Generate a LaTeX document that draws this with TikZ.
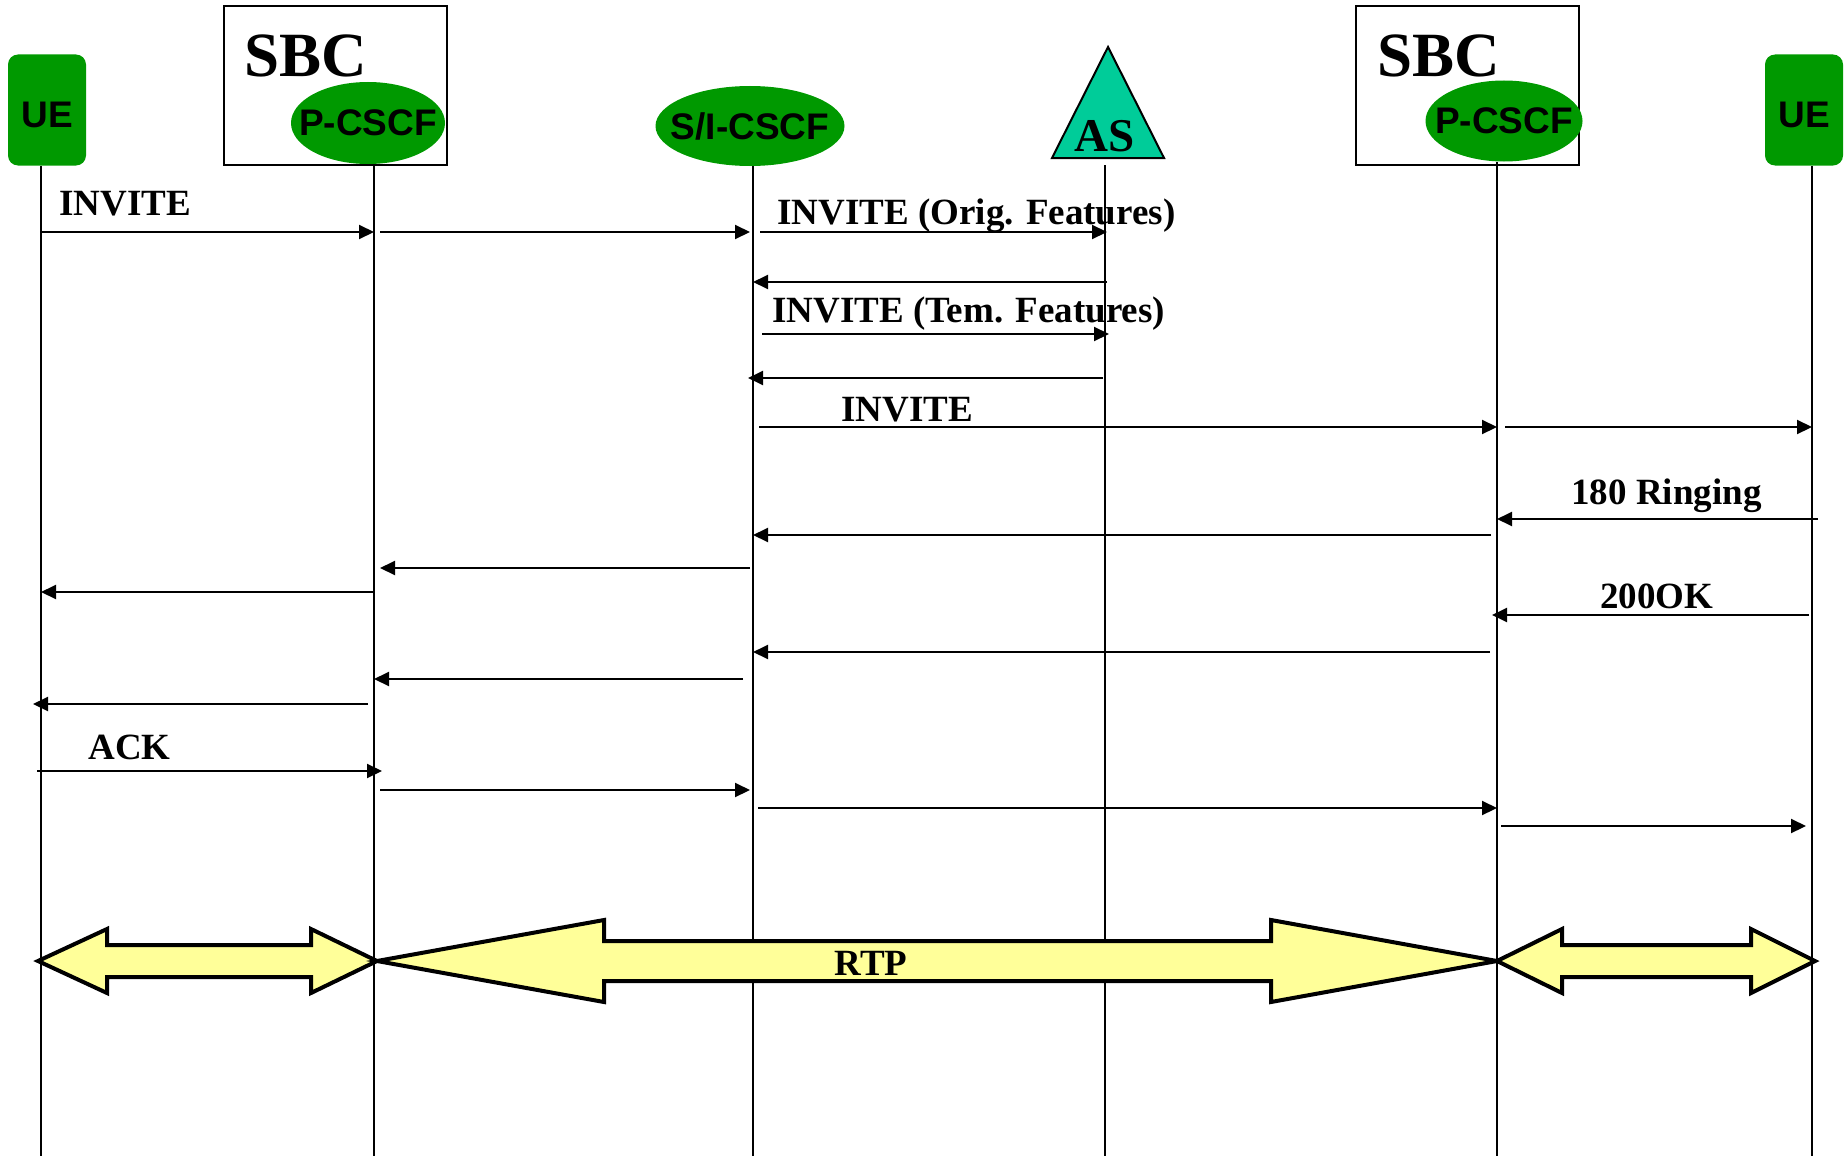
\documentclass[tikz,border=0pt]{standalone}
\usepackage{fontspec}
\setmainfont{Liberation Serif}
\setsansfont{Liberation Sans}
\usetikzlibrary{arrows.meta,shapes.geometric}
\definecolor{uegreen}{RGB}{0,153,0}
\definecolor{asteal}{RGB}{0,204,153}
\definecolor{rtpyellow}{RGB}{255,255,153}

\begin{document}
\begin{tikzpicture}[x=0.5pt, y=-0.5pt,
  nodefont/.style={font=\sffamily\bfseries\fontsize{18.5}{20}\selectfont},
  ue/.style={nodefont, fill=uegreen, rounded corners=5pt, text height=17.5pt, minimum width=39pt, minimum height=55.5pt, inner sep=0pt},
  cscf/.style={ellipse, fill=uegreen, inner sep=0pt},
  sbcbox/.style={draw, line width=1.1pt, fill=white, minimum width=111.5pt, minimum height=79.5pt},
  sbctext/.style={anchor=base west, inner sep=0pt, font=\bfseries\fontsize{31.5}{33}\selectfont},
  lbl/.style={anchor=base west, inner sep=0pt, font=\bfseries\fontsize{18.5}{20}\selectfont},
  life/.style={line width=0.9pt},
  msg/.style={line width=1pt, -{Triangle[length=7.5pt,width=7pt]}},
  rtp/.style={draw, fill=rtpyellow, line width=2pt, line join=miter}]
\useasboundingbox (0,0) rectangle (1845,1156);

%% entities
\node[ue] (ue1) at (47,110) {UE};
\node[sbcbox] (sbc1) at (335.5,85.5) {};
\node[sbctext] (sbc1t) at (244,77) {SBC};
\node[cscf, minimum width=77pt, minimum height=41pt, label={[nodefont]center:P-CSCF}] (p1) at (368,123) {};
\node[cscf, minimum width=94.5pt, minimum height=40pt, label={[nodefont]center:S/I-CSCF}] (s) at (750,126) {};
\filldraw[fill=asteal, line width=1pt, line join=miter] (1052,158) -- (1108,47) -- (1164,158) -- cycle;
\node[anchor=base, inner sep=0pt, font=\bfseries\fontsize{23.5}{25}\selectfont] (as) at (1105,151) {AS};
\node[sbcbox] (sbc2) at (1467.5,85.5) {};
\node[sbctext] (sbc2t) at (1377,77) {SBC};
\node[cscf, minimum width=78.5pt, minimum height=40.5pt, label={[nodefont]center:P-CSCF}] (p2) at (1504,121) {};
\node[ue] (ue2) at (1804,110) {UE};

%% lifelines
\coordinate (lUE1) at ([xshift=-3pt]ue1.south);
\coordinate (lP1) at ([xshift=3pt]p1.south);
\coordinate (lS) at ([xshift=1.5pt]s.south);
\coordinate (lAS) at (as |- 0,165);
\coordinate (lP2) at ([xshift=-3.5pt]p2.south);
\coordinate (lUE2) at ([xshift=4pt]ue2.south);
\foreach \l in {lUE1,lP1,lS,lAS,lP2,lUE2}
  \draw[life] (\l) -- (\l |- 0,1156);

%% INVITE
\node[lbl] (m1) at (59,215) {INVITE};
\draw[msg] (lUE1 |- 0,232) -- (lP1 |- 0,232);
\draw[msg, shorten <=3pt, shorten >=1.5pt] (lP1 |- 0,232) -- (lS |- 0,232);
\node[lbl] (m3) at (777,224) {INVITE (Orig. Features)};
\draw[msg, shorten <=3.5pt, shorten >=-1pt] (lS |- 0,232) -- (lAS |- 0,232);
\draw[msg, shorten <=-1pt] (lAS |- 0,282) -- (lS |- 0,282);
\node[lbl] (m5) at (772,322) {INVITE (Tem. Features)};
\draw[msg, shorten <=4.5pt, shorten >=-2pt] (lS |- 0,334) -- (lAS |- 0,334);
\draw[msg, shorten <=1pt, shorten >=-2.5pt] (lAS |- 0,378) -- (lS |- 0,378);
\node[lbl] (m7) at (841,421) {INVITE};
\draw[msg, shorten <=3pt] (lS |- 0,427) -- (lP2 |- 0,427);
\draw[msg, shorten <=4pt] (lP2 |- 0,427) -- (lUE2 |- 0,427);

%% 180 Ringing
\node[lbl] (m9) at (1571,504) {180 Ringing};
\draw[msg, shorten <=-3pt] (lUE2 |- 0,519) -- (lP2 |- 0,519);
\draw[msg, shorten <=3pt] (lP2 |- 0,535) -- (lS |- 0,535);
\draw[msg, shorten <=1.5pt, shorten >=3pt] (lS |- 0,568) -- (lP1 |- 0,568);
\draw[msg] (lP1 |- 0,592) -- (lUE1 |- 0,592);

%% 200OK
\node[lbl] (m13) at (1600,608) {200OK};
\draw[msg, shorten <=1.5pt, shorten >=-2.5pt] (lUE2 |- 0,615) -- (lP2 |- 0,615);
\draw[msg, shorten <=3.5pt] (lP2 |- 0,652) -- (lS |- 0,652);
\draw[msg, shorten <=5pt] (lS |- 0,679) -- (lP1 |- 0,679);
\draw[msg, shorten <=3pt, shorten >=-4pt] (lP1 |- 0,704) -- (lUE1 |- 0,704);

%% ACK
\node[lbl] (m17) at (88,759) {ACK};
\draw[msg, shorten <=-2pt, shorten >=-4pt] (lUE1 |- 0,771) -- (lP1 |- 0,771);
\draw[msg, shorten <=3pt, shorten >=1.5pt] (lP1 |- 0,790) -- (lS |- 0,790);
\draw[msg, shorten <=2.5pt] (lS |- 0,808) -- (lP2 |- 0,808);
\draw[msg, shorten <=2pt, shorten >=3pt] (lP2 |- 0,826) -- (lUE2 |- 0,826);

%% RTP
\draw[rtp] (38,961) -- (107,929) -- (107,945) -- (311,945) -- (311,929) -- (377,961)
  -- (311,993) -- (311,977) -- (107,977) -- (107,993) -- cycle;
\draw[rtp] (377,961) -- (604,920) -- (604,941) -- (1271,941) -- (1271,920) -- (1497,961)
  -- (1271,1002) -- (1271,981) -- (604,981) -- (604,1002) -- cycle;
\node[lbl, anchor=base] (rtp) at (871,975) {RTP};
\draw[rtp] (1497,961) -- (1562,929) -- (1562,945) -- (1751,945) -- (1751,929) -- (1815,961)
  -- (1751,993) -- (1751,977) -- (1562,977) -- (1562,993) -- cycle;
\end{tikzpicture}
\end{document}
